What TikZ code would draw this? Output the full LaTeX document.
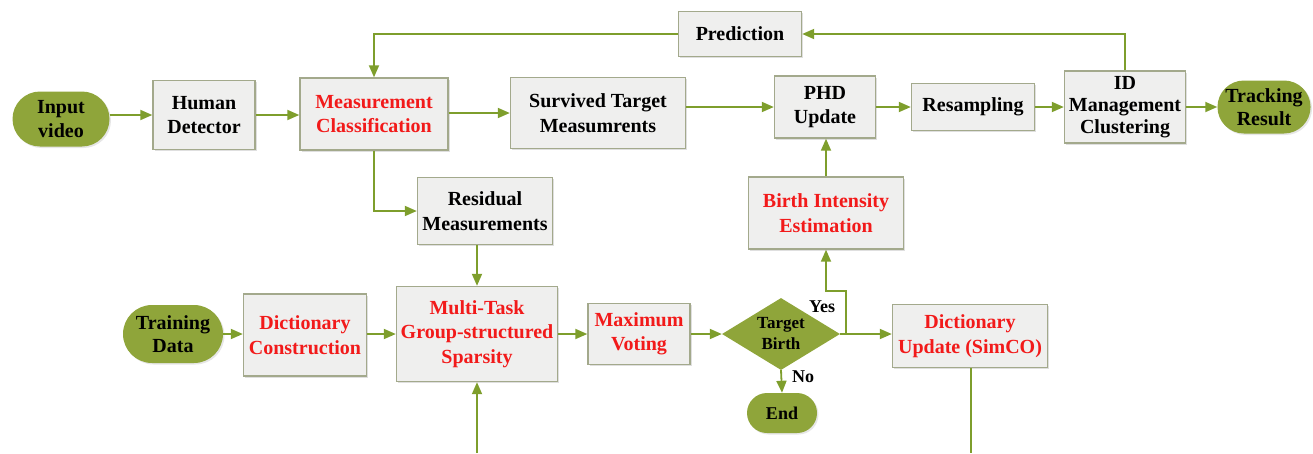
\documentclass[tikz,border=0pt]{standalone}
\usepackage{fontspec}
\setmainfont{Liberation Serif}
\usetikzlibrary{arrows.meta,shapes.misc,shapes.geometric,shadows,calc}
\definecolor{lgreen}{HTML}{7E9E2C}
\definecolor{pillfill}{HTML}{8FA53A}
\definecolor{boxfill}{HTML}{EFEFEE}
\definecolor{boxline}{HTML}{A3A98C}
\definecolor{txtred}{HTML}{F21A1A}
\tikzset{
  x=1pt,y=-1pt,
  conn/.style={draw=lgreen,line width=1.8pt},
  arr/.style={conn,-{Triangle[length=12pt,width=10pt]}},
  boxnode/.style={rectangle,draw=boxline,line width=1.4pt,fill=boxfill,align=center,
     inner sep=0pt,font=\bfseries\fontsize{20}{24.5}\selectfont,
     drop shadow={shadow xshift=1.5pt,shadow yshift=-1.5pt,opacity=0.25,fill=gray}},
  lowbox/.style={boxnode},
  pill/.style={rounded rectangle,fill=pillfill,draw=none,align=center,inner sep=0pt,
     font=\bfseries\fontsize{20}{23.5}\selectfont,
     drop shadow={shadow xshift=1.5pt,shadow yshift=-1.5pt,opacity=0.2,fill=gray}},
  redtext/.style={text=txtred},
  lbl/.style={font=\bfseries\fontsize{18}{22}\selectfont,inner sep=0pt}
}
\begin{document}
\begin{tikzpicture}
\useasboundingbox (0,0) rectangle (1313,453);
% top row
\node[pill,minimum width=97pt,minimum height=55pt] (in) at (61,119) {Input\\video};
\node[boxnode,minimum width=102pt,minimum height=69pt] (hd) at (204,115) {Human\\Detector};
\node[boxnode,redtext,minimum width=148pt,minimum height=72pt] (mc) at (374,114) {Measurement\\Classification};
\node[boxnode,minimum width=175pt,minimum height=71pt] (st) at (598,113) {Survived Target\\Measumrents};
\node[boxnode,minimum width=123pt,minimum height=45pt] (pred) at (740,34) {Prediction};
\node[boxnode,minimum width=101pt,minimum height=62pt] (phd) at (825,107) {PHD\\Update};
\node[boxnode,minimum width=123pt,minimum height=47pt] (res) at (973,107) {Resampling};
\node[boxnode,minimum width=121pt,minimum height=72pt,font=\bfseries\fontsize{20}{22}\selectfont] (id) at (1125,107) {ID\\Management\\Clustering};
\node[pill,minimum width=92pt,minimum height=53pt] (tr) at (1264,107) {Tracking\\Result};
% middle
\node[boxnode,minimum width=135pt,minimum height=67pt] (rm) at (485,211) {Residual\\Measurements};
\node[boxnode,redtext,minimum width=155pt,minimum height=72pt] (be) at (826,213) {Birth Intensity\\Estimation};
% bottom row
\node[pill,minimum width=100pt,minimum height=58pt] (td) at (173,334) {Training\\Data};
\node[lowbox,redtext,minimum width=123pt,minimum height=82pt] (dc) at (305,335) {Dictionary\\Construction};
\node[lowbox,redtext,minimum width=161pt,minimum height=95pt] (mt) at (477,334) {Multi-Task\\Group-structured\\Sparsity};
\node[lowbox,redtext,minimum width=102pt,minimum height=61pt] (mv) at (639,334) {Maximum\\Voting};
\node[diamond,fill=pillfill,draw=none,aspect=1.64,minimum width=118pt,minimum height=72pt,inner sep=0pt,align=center,
      font=\bfseries\fontsize{17}{21}\selectfont] (tb) at (781,334) {Target\\Birth};
\node[lowbox,redtext,minimum width=155pt,minimum height=63pt] (du) at (970,336) {Dictionary\\Update (SimCO)};
\node[pill,minimum width=70pt,minimum height=40pt,font=\bfseries\fontsize{18}{22}\selectfont] (end) at (782,413) {End};
% labels
\node[lbl] (yes) at (822,307) {Yes};
\node[lbl] (no) at (803,377) {No};
% helper coordinates
\coordinate (yj) at (846,334);
\coordinate (yt) at (846,291);
\coordinate (bot1) at (477,453);
\coordinate (bot2) at (971,453);
% connectors
\draw[arr] (in.east |- hd.west) -- (hd.west);
\draw[arr] (hd.east) -- (mc.west |- hd.east);
\draw[arr] (mc.east |- st.west) -- (st.west);
\draw[arr] (st.east |- phd.west) -- (phd.west);
\draw[arr] (phd.east) -- (res.west);
\draw[arr] (res.east) -- (id.west);
\draw[arr] (id.east) -- (tr.west);
\draw[arr] (id.north) |- (pred.east);
\draw[arr] (pred.west) -| (mc.north);
\draw[arr] (mc.south) |- (rm.west);
\draw[arr] (rm.south -| mt.north) -- (mt.north);
\draw[arr] (be.north) -- (phd.south -| be.north);
\draw[arr] (td.east) -- (dc.west |- td.east);
\draw[arr] (dc.east |- mt.west) -- (mt.west);
\draw[arr] (mt.east) -- (mv.west);
\draw[arr] (mv.east) -- (tb.west);
\draw[arr] (tb.east) -- (du.west |- tb.east);
\draw[arr] (tb.south) -- (end.north);
\draw[arr] (yj) -- (yt) -| (be.south);
\draw[arr] (bot1) -- (mt.south);
\draw[conn] (du.south -| bot2) -- (bot2);
\end{tikzpicture}
\end{document}
